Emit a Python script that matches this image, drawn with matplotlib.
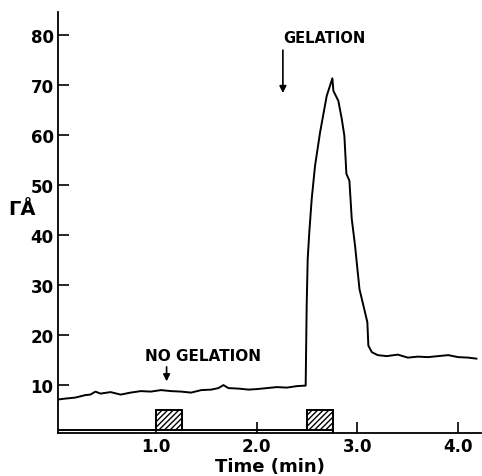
import matplotlib
matplotlib.use("Agg")
import matplotlib.pyplot as plt

# main trace (time in min, r in Angstrom)
time_min = [0.02, 0.10, 0.20, 0.30, 0.35, 0.40, 0.45, 0.55, 0.65, 0.75,
            0.85, 0.95, 1.05, 1.15, 1.25, 1.35, 1.45, 1.55, 1.62, 1.67,
            1.72, 1.82, 1.92, 2.00, 2.10, 2.20, 2.30, 2.40, 2.486, 2.496,
            2.506, 2.522, 2.546, 2.579, 2.629, 2.695, 2.751, 2.761, 2.81, 2.844,
            2.870, 2.890, 2.920, 2.943, 2.976, 2.995, 3.020, 3.059, 3.098, 3.108,
            3.142, 3.20, 3.29, 3.40, 3.50, 3.60, 3.70, 3.80, 3.90, 4.00, 4.10, 4.18]
r_angstrom = [7.0, 7.2, 7.4, 7.9, 8.0, 8.6, 8.2, 8.5, 8.0, 8.4,
              8.7, 8.6, 8.9, 8.7, 8.6, 8.4, 8.9, 9.0, 9.3, 9.9,
              9.3, 9.2, 9.0, 9.1, 9.3, 9.5, 9.4, 9.7, 9.8, 25.8,
              35.1, 40.5, 47.2, 53.8, 60.5, 67.8, 71.3, 68.8, 66.8, 63.2,
              59.8, 52.2, 50.8, 43.2, 37.8, 34.0, 29.1, 25.8, 22.5, 17.8,
              16.5, 15.9, 15.7, 16.0, 15.4, 15.6, 15.5, 15.7, 15.9, 15.5, 15.4, 15.2]

# stimulus pulses (hatched boxes)
pulse_start = [1.0, 2.5]
pulse_end = [1.26, 2.76]
pulse_height = 5.0
stim_base = 0.9

stim_t = [0.02, 1.0, 1.0, 1.26, 1.26, 2.5, 2.5, 2.76, 2.76]
stim_v = [stim_base, stim_base, pulse_height, pulse_height, stim_base,
          stim_base, pulse_height, pulse_height, 0.3]

xticks = [1.0, 2.0, 3.0, 4.0]
yticks = [10, 20, 30, 40, 50, 60, 70, 80]

fig = plt.figure(figsize=(4.82, 4.77), dpi=100)
ax = fig.add_axes([0.120, 0.090, 0.878, 0.883])

ax.plot(time_min, r_angstrom, color="black", lw=1.4)
ax.plot(stim_t, stim_v, color="black", lw=1.4)
for s, e in zip(pulse_start, pulse_end):
    ax.bar(s, pulse_height - stim_base, width=e - s, bottom=stim_base,
           align="edge", facecolor="white", edgecolor="black",
           hatch="//////", lw=1.4)

ax.set_xlim(0.027, 4.226)
ax.set_ylim(0.3, 84.6)
ax.spines["top"].set_visible(False)
ax.spines["right"].set_visible(False)
ax.spines["left"].set_linewidth(1.3)
ax.spines["bottom"].set_linewidth(1.3)
ax.set_xticks(xticks)
ax.set_xticklabels([f"{v:.1f}" for v in xticks])
ax.set_yticks(yticks)
ax.tick_params(direction="in", length=8, width=1.2, labelsize=12, pad=3)
for lab in ax.get_xticklabels() + ax.get_yticklabels():
    lab.set_fontweight("bold")

ax.set_xlabel("Time (min)", fontsize=13, fontweight="bold", labelpad=1)
fig.text(0.045, 0.56, "ΓÅ", fontsize=14, fontweight="bold",
         ha="center", va="center")

ax.annotate("", xy=(2.26, 67.8), xytext=(2.26, 77.5),
            arrowprops=dict(arrowstyle="-|>", color="black", lw=1.2,
                            mutation_scale=10))
ax.text(2.673, 79.5, "GELATION", fontsize=10.5, fontweight="bold",
        ha="center", va="center")

ax.annotate("", xy=(1.106, 10.1), xytext=(1.106, 14.1),
            arrowprops=dict(arrowstyle="-|>", color="black", lw=1.2,
                            mutation_scale=10))
ax.text(1.47, 15.8, "NO GELATION", fontsize=11, fontweight="bold",
        ha="center", va="center")

fig.savefig("out.png", dpi=100)
